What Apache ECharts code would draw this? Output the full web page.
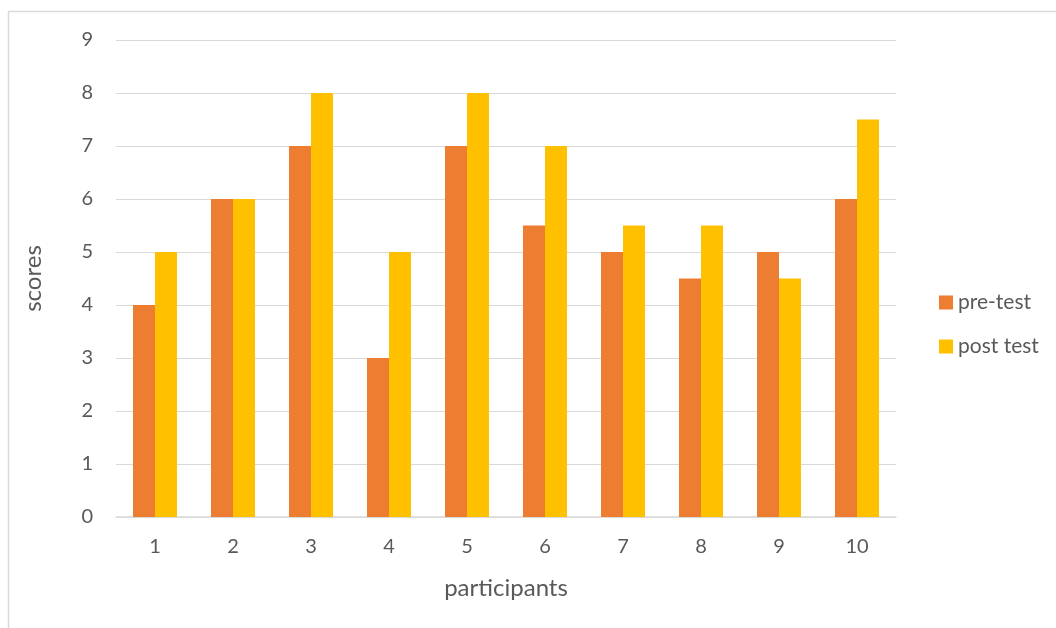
<!DOCTYPE html>
<html>
<head>
<meta charset="utf-8">
<script src="https://cdn.jsdelivr.net/npm/echarts@6/dist/echarts.min.js"></script>
<style>
  html, body { margin: 0; padding: 0; background: #fff; }
  #chart { width: 1056px; height: 628px; }
</style>
</head>
<body>
<div id="chart"></div>
<script>
// Scores per participant, before and after
const participants = ['1', '2', '3', '4', '5', '6', '7', '8', '9', '10'];
const preTest = [4, 6, 7, 3, 7, 5.5, 5, 4.5, 5, 6];
const postTest = [5, 6, 8, 5, 8, 7, 5.5, 5.5, 4.5, 7.5];
const seriesNames = ['pre-test', 'post test'];

const textColor = '#595959';
const fontFamily = 'Lato, "Open Sans", sans-serif';

const chart = echarts.init(document.getElementById('chart'));
chart.setOption({
  animation: false,
  backgroundColor: '#ffffff',
  textStyle: { fontFamily: fontFamily, color: textColor },
  graphic: [{
    type: 'rect',
    shape: { x: 8.5, y: 11.5, width: 1200, height: 800 },
    style: { fill: 'none', stroke: '#d9d9d9', lineWidth: 1.5 },
    silent: true
  }],
  grid: { left: 116, right: 160, top: 40, bottom: 111 },
  legend: {
    orient: 'vertical',
    left: 934,
    top: 287,
    itemWidth: 14,
    itemHeight: 14,
    itemGap: 23,
    icon: 'rect',
    textStyle: { fontSize: 21, color: textColor, fontFamily: fontFamily },
    data: seriesNames
  },
  xAxis: {
    type: 'category',
    data: participants,
    name: 'participants',
    nameLocation: 'middle',
    nameGap: 59,
    nameTextStyle: { fontSize: 24, color: textColor, fontFamily: fontFamily },
    axisLine: { lineStyle: { color: '#d9d9d9', width: 1.5 } },
    axisTick: { show: false },
    axisLabel: { fontSize: 20, color: textColor, margin: 20, fontFamily: fontFamily }
  },
  yAxis: {
    type: 'value',
    min: 0,
    max: 9,
    interval: 1,
    name: 'scores',
    nameLocation: 'middle',
    nameGap: 71,
    nameRotate: 90,
    nameTextStyle: { fontSize: 24, color: textColor, fontFamily: fontFamily },
    axisLine: { show: false },
    axisTick: { show: false },
    axisLabel: { fontSize: 20, color: textColor, margin: 23, fontFamily: fontFamily },
    splitLine: { lineStyle: { color: '#d9d9d9', width: 1 } }
  },
  series: [
    {
      name: seriesNames[0],
      type: 'bar',
      data: preTest,
      barGap: '0%',
      barCategoryGap: '43.6%',
      itemStyle: { color: '#ED7D31' }
    },
    {
      name: seriesNames[1],
      type: 'bar',
      data: postTest,
      barGap: '0%',
      barCategoryGap: '43.6%',
      itemStyle: { color: '#FFC000' }
    }
  ]
});
</script>
</body>
</html>
